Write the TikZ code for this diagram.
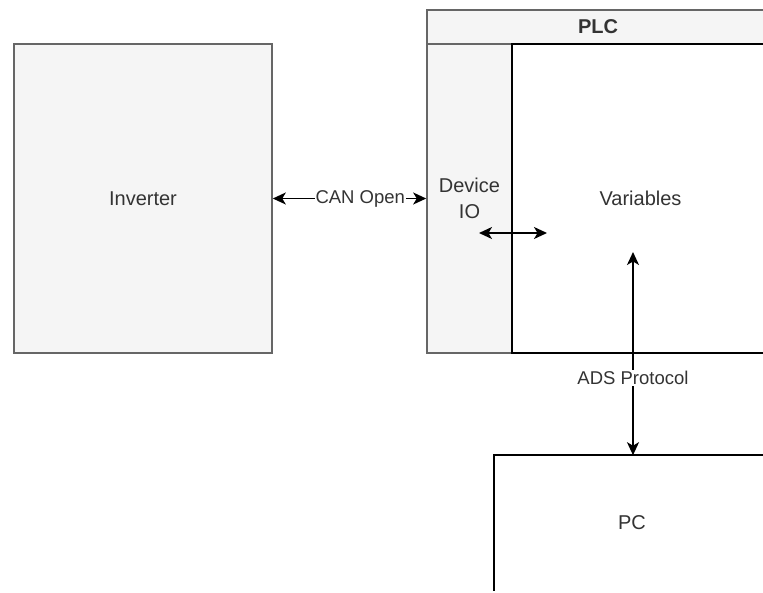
\documentclass[tikz,border=0pt]{standalone}
\usepackage{fontspec}
\setmainfont{Liberation Sans}
\usetikzlibrary{arrows.meta}
\definecolor{grayborder}{HTML}{666666}
\definecolor{grayfill}{HTML}{F5F5F5}
\definecolor{txt}{HTML}{333333}
\begin{document}
\begin{tikzpicture}[x=1pt,y=-1pt,
  graybox/.style={draw=grayborder,fill=grayfill,line width=1.6pt,text=txt,
    font=\fontsize{20}{26}\selectfont,inner sep=0pt,align=center},
  whitebox/.style={fill=white,line width=1.6pt,text=txt,
    font=\fontsize{20}{26}\selectfont,inner sep=0pt,align=center},
  conn/.style={line width=1.6pt,{Stealth[length=13pt,width=12pt,inset=3.5pt]}-{Stealth[length=13pt,width=12pt,inset=3.5pt]}},
  elabel/.style={fill=white,text=txt,font=\fontsize{18.5}{22}\selectfont,inner sep=1pt}]
\useasboundingbox (0,0) rectangle (763,592);
\clip (0,0) rectangle (763,592);
\fill[white] (0,0) rectangle (763,592);
% Inverter
\node[graybox,minimum width=258pt,minimum height=309pt] (inv) at (143,198.5) {Inverter};
% PLC header
\node[graybox,minimum width=342pt,minimum height=34pt,font=\fontsize{20}{26}\selectfont\bfseries] (plc) at (598,27) {PLC};
% Device IO
\node[graybox,minimum width=85pt,minimum height=309pt] (dev) at (469.5,198.5) {Device\\IO};
% Variables
\node[whitebox,draw=black,minimum width=257pt,minimum height=309pt] (var) at (640.5,198.5) {Variables};
% PC
\node[whitebox,minimum width=274pt,minimum height=134pt] (pc) at (632,523) {PC};
\draw[line width=1.6pt] (pc.south west) -- (pc.north west) -- (pc.north east) -- (pc.south east);
% CAN Open
\draw[conn] (inv.east) -- (dev.west) node[elabel,pos=0.57] {CAN Open};
% Device IO <-> Variables
\coordinate (dioA) at (479,233);
\coordinate (dioB) at (547,233);
\draw[conn] (dioA) -- (dioB);
% ADS
\coordinate (adsTop) at (633,252);
\draw[conn] (adsTop) -- (adsTop |- pc.north) node[elabel,pos=0.62] {ADS Protocol};
\end{tikzpicture}
\end{document}
